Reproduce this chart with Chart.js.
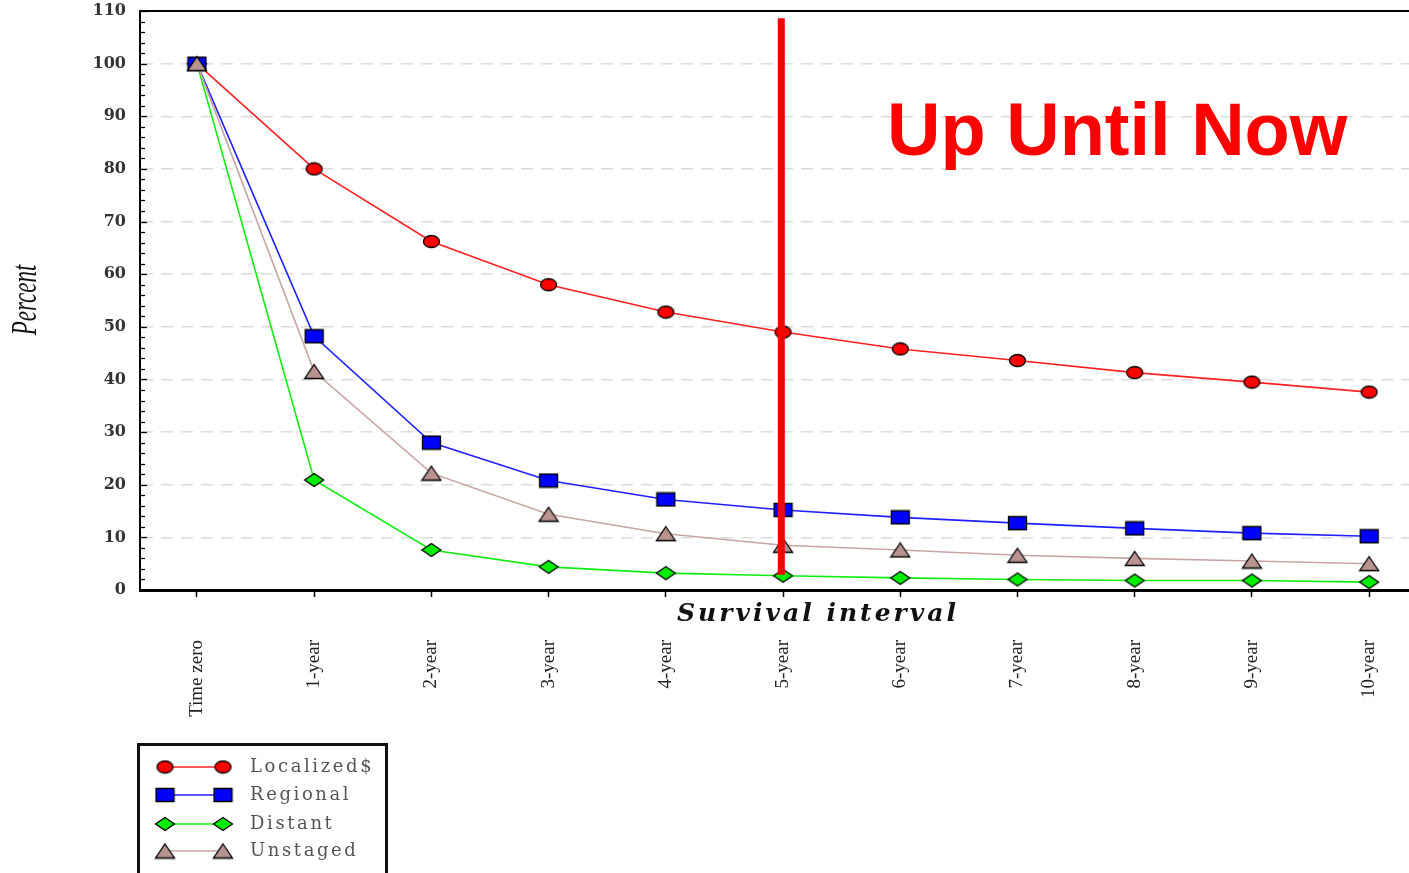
<!DOCTYPE html>
<html><head><meta charset="utf-8">
<script src="https://cdn.jsdelivr.net/npm/chart.js@4.4.1/dist/chart.umd.min.js"></script>
<style>html,body{margin:0;padding:0;background:#fff;overflow:hidden}canvas{display:block}</style>
</head><body>
<canvas id="c" width="1409" height="873"></canvas>
<script>
// ---- data ----
const intervals = ['Time zero','1-year','2-year','3-year','4-year','5-year','6-year','7-year','8-year','9-year','10-year'];
const localized = [100, 80.0, 66.2, 58.0, 52.8, 49.0, 45.8, 43.6, 41.3, 39.5, 37.6];
const regional  = [100, 48.2, 28.0, 20.8, 17.2, 15.2, 13.8, 12.7, 11.7, 10.8, 10.2];
const distant   = [100, 20.9, 7.6, 4.4, 3.2, 2.7, 2.3, 2.0, 1.8, 1.8, 1.5];
const unstaged  = [100, 41.5, 22.2, 14.4, 10.7, 8.5, 7.6, 6.6, 6.0, 5.5, 5.0];
const seriesNames = ['Localized$', 'Regional', 'Distant', 'Unstaged'];
const nowLineX = 4.985;         // position of the "Up Until Now" marker line
const nowLineY = [108.6, 2.9];  // its extent in percent
const nowText = 'Up Until Now';
const xTitle = 'Survival interval';
const yTitle = 'Percent';

// ---- marker images ----
function marker(shape, w, h, fill) {
  const c = document.createElement('canvas');
  c.width = w + 3; c.height = h + 3;
  const g = c.getContext('2d');
  const x0 = 1.5, y0 = 1.5, cx = x0 + w / 2, cy = y0 + h / 2;
  g.beginPath();
  if (shape === 'ellipse') g.ellipse(cx, cy, w / 2, h / 2, 0, 0, Math.PI * 2);
  else if (shape === 'rect') g.rect(x0, y0, w, h);
  else if (shape === 'diamond') { g.moveTo(cx, y0); g.lineTo(x0 + w, cy); g.lineTo(cx, y0 + h); g.lineTo(x0, cy); g.closePath(); }
  else { g.moveTo(cx, y0); g.lineTo(x0 + w, y0 + h); g.lineTo(x0, y0 + h); g.closePath(); }
  g.fillStyle = fill; g.fill();
  g.lineWidth = 1.3; g.strokeStyle = '#000'; g.stroke();
  return c;
}
const mk = [
  marker('ellipse', 16, 12, '#ff0000'),
  marker('rect', 18, 13, '#0000ff'),
  marker('diamond', 19, 13, '#00ee00'),
  marker('triangle', 19, 14, '#b89390')
];
const lineColors = ['#ff2020', '#2020ff', '#10ee10', '#c8a4a2'];
const seriesData = [localized, regional, distant, unstaged];
const orders = [3, 2, 4, 1];

const datasets = seriesData.map((arr, k) => ({
  label: seriesNames[k],
  data: arr.map((v, i) => ({ x: i, y: v })),
  borderColor: lineColors[k],
  backgroundColor: lineColors[k],
  borderWidth: 1.6,
  pointStyle: mk[k],
  pointRadius: 7,
  pointHoverRadius: 7,
  tension: 0,
  order: orders[k]
}));
datasets.push({
  label: 'now',
  data: [{ x: nowLineX, y: nowLineY[0] }, { x: nowLineX, y: nowLineY[1] }],
  borderColor: '#ff0000',
  borderWidth: 7,
  borderCapStyle: 'butt',
  pointRadius: 0,
  order: 0
});

const decor = {
  id: 'decor',
  afterDraw(chart) {
    const ctx = chart.ctx, a = chart.chartArea;
    const ys = chart.scales.y;
    ctx.save();
    // top frame line
    ctx.strokeStyle = '#000'; ctx.lineWidth = 2;
    ctx.beginPath(); ctx.moveTo(a.left, a.top); ctx.lineTo(chart.width, a.top); ctx.stroke();
    // inner y ticks
    ctx.lineWidth = 1.3;
    for (let v = 0; v <= 110; v += 2) {
      const y = Math.round(ys.getPixelForValue(v)) + 0.5;
      const len = v % 10 === 0 ? 7 : 5;
      ctx.beginPath(); ctx.moveTo(a.left, y); ctx.lineTo(a.left + len, y); ctx.stroke();
    }
    // y title
    ctx.fillStyle = '#111';
    ctx.save();
    ctx.translate(26, 300);
    ctx.rotate(-Math.PI / 2);
    ctx.scale(0.82, 1.3);
    ctx.font = 'italic 28px "Liberation Serif"';
    ctx.textAlign = 'center'; ctx.textBaseline = 'middle';
    ctx.fillText(yTitle, 0, 0);
    ctx.restore();
    // x title
    ctx.save();
    ctx.font = 'italic bold 25px "DejaVu Serif"';
    ctx.letterSpacing = '3px';
    ctx.textAlign = 'center'; ctx.textBaseline = 'middle';
    ctx.fillText(xTitle, 818, 614);
    ctx.restore();
    // annotation text
    ctx.save();
    ctx.fillStyle = '#ff0000';
    ctx.font = 'bold 74px "Liberation Sans"';
    ctx.textAlign = 'left'; ctx.textBaseline = 'alphabetic';
    ctx.fillText(nowText, 887, 155);
    ctx.restore();
    // legend
    ctx.save();
    ctx.strokeStyle = '#111'; ctx.lineWidth = 3;
    ctx.strokeRect(138.5, 744.5, 248, 140);
    const rows = [767, 795, 824, 851];
    ctx.font = '18px "DejaVu Serif"';
    ctx.letterSpacing = '2.6px';
    ctx.textBaseline = 'middle'; ctx.textAlign = 'left';
    rows.forEach((ry, k) => {
      ctx.strokeStyle = lineColors[k]; ctx.lineWidth = 1.6;
      ctx.beginPath(); ctx.moveTo(165, ry); ctx.lineTo(223, ry); ctx.stroke();
      ctx.drawImage(mk[k], 165 - mk[k].width / 2, ry - mk[k].height / 2);
      ctx.drawImage(mk[k], 223 - mk[k].width / 2, ry - mk[k].height / 2);
      ctx.fillStyle = '#555';
      ctx.fillText(seriesNames[k], 250, ry);
    });
    ctx.restore();
    ctx.restore();
  }
};

new Chart(document.getElementById('c'), {
  type: 'line',
  data: { datasets },
  options: {
    responsive: false,
    animation: false,
    devicePixelRatio: 1,
    layout: { autoPadding: false, padding: { top: 11, right: 0, left: 0, bottom: 0 } },
    plugins: { legend: { display: false }, tooltip: { enabled: false }, title: { display: false } },
    scales: {
      x: {
        type: 'linear',
        min: -0.486,
        max: 10.34,
        afterBuildTicks: s => { s.ticks = intervals.map((_, i) => ({ value: i })); },
        afterFit: s => { s.height = 283; s.paddingLeft = 0; s.paddingRight = 0; },
        ticks: {
          autoSkip: false, minRotation: 90, maxRotation: 90,
          padding: 43,
          color: '#222',
          font: { family: '"Liberation Serif"', size: 19 },
          callback: v => intervals[v] ?? ''
        },
        grid: { display: true, drawOnChartArea: false, drawTicks: true, tickLength: 7, tickColor: '#000', tickWidth: 1.5 },
        border: { display: true, color: '#000', width: 3 }
      },
      y: {
        min: 0, max: 110,
        afterFit: s => { s.width = 140; s.paddingTop = 0; s.paddingBottom = 0; },
        ticks: {
          stepSize: 10, padding: 14, color: '#333',
          font: { family: '"DejaVu Serif"', size: 16, weight: 'bold' }
        },
        grid: {
          drawTicks: false, lineWidth: 1.5,
          color: c => (c.tick && (c.tick.value === 0 || c.tick.value === 110)) ? 'rgba(0,0,0,0)' : '#dcdcdc'
        },
        border: { display: true, color: '#000', width: 2, dash: [12, 8] }
      }
    }
  },
  plugins: [decor]
});
</script>
</body></html>
